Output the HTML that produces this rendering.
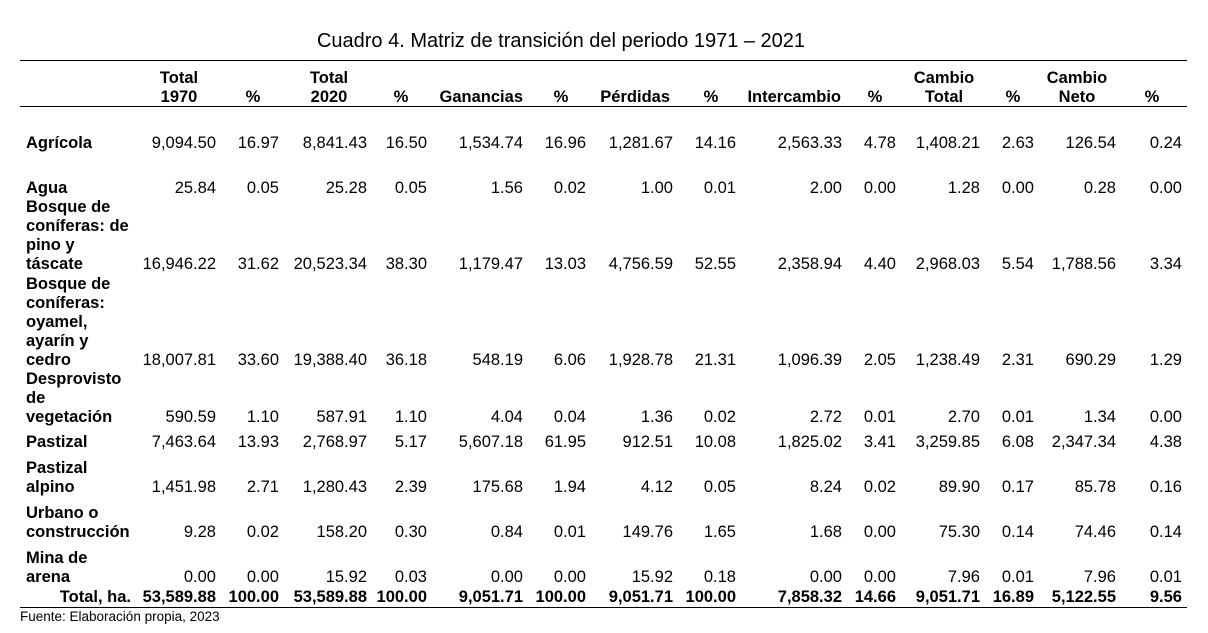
<!DOCTYPE html>
<html><head><meta charset="utf-8"><style>
body{margin:0;background:#fff;width:1208px;height:633px;position:relative;overflow:hidden;font-family:"Liberation Sans",Arial,sans-serif;color:#000}
.t{position:absolute;white-space:nowrap;font-size:16.5px;line-height:19px}
.b{font-weight:bold}
.r{position:absolute;left:0;width:1208px;height:19px}
.r span{position:absolute;top:0;white-space:nowrap;font-size:16.5px;line-height:19px}
.r span:nth-child(2){right:992px}.r span:nth-child(3){right:929px}
.r span:nth-child(4){right:841px}.r span:nth-child(5){right:781px}
.r span:nth-child(6){right:685px}.r span:nth-child(7){right:622px}
.r span:nth-child(8){right:535px}.r span:nth-child(9){right:472px}
.r span:nth-child(10){right:366px}.r span:nth-child(11){right:312px}
.r span:nth-child(12){right:228px}.r span:nth-child(13){right:174px}
.r span:nth-child(14){right:92px}.r span:nth-child(15){right:26px}
.r span:nth-child(1){left:26px;font-weight:bold}
.line{position:absolute;left:20px;width:1167px;height:1px;background:#000}
.h{position:absolute;font-size:16.5px;line-height:19px;font-weight:bold;text-align:center;white-space:nowrap}
</style></head><body>
<div class="t" style="left:0;width:1122px;text-align:center;top:29px;font-size:20px;line-height:24px">Cuadro 4. Matriz de transición del periodo 1971 – 2021</div>
<div class="line" style="top:60px"></div>
<div class="line" style="top:106px"></div>
<div class="line" style="top:607px"></div>

<div class="h" style="left:149px;width:60px;top:69px">Total<br>1970</div>
<div class="h" style="left:238px;width:30px;top:88px">%</div>
<div class="h" style="left:299px;width:60px;top:69px">Total<br>2020</div>
<div class="h" style="left:386px;width:30px;top:88px">%</div>
<div class="h" style="right:685px;top:88px">Ganancias</div>
<div class="h" style="left:546px;width:30px;top:88px">%</div>
<div class="h" style="right:538px;top:88px">Pérdidas</div>
<div class="h" style="left:696px;width:30px;top:88px">%</div>
<div class="h" style="right:367px;top:88px">Intercambio</div>
<div class="h" style="left:860px;width:30px;top:88px">%</div>
<div class="h" style="left:904px;width:80px;top:69px">Cambio<br>Total</div>
<div class="h" style="left:998px;width:30px;top:88px">%</div>
<div class="h" style="left:1037px;width:80px;top:69px">Cambio<br>Neto</div>
<div class="h" style="left:1137px;width:30px;top:88px">%</div>

<div class="r" style="top:134px"><span>Agrícola</span><span>9,094.50</span><span>16.97</span><span>8,841.43</span><span>16.50</span><span>1,534.74</span><span>16.96</span><span>1,281.67</span><span>14.16</span><span>2,563.33</span><span>4.78</span><span>1,408.21</span><span>2.63</span><span>126.54</span><span>0.24</span></div>
<div class="r" style="top:179px"><span>Agua</span><span>25.84</span><span>0.05</span><span>25.28</span><span>0.05</span><span>1.56</span><span>0.02</span><span>1.00</span><span>0.01</span><span>2.00</span><span>0.00</span><span>1.28</span><span>0.00</span><span>0.28</span><span>0.00</span></div>
<div class="t b" style="left:26px;top:198px">Bosque de<br>coníferas: de<br>pino y</div>
<div class="r" style="top:255px"><span>táscate</span><span>16,946.22</span><span>31.62</span><span>20,523.34</span><span>38.30</span><span>1,179.47</span><span>13.03</span><span>4,756.59</span><span>52.55</span><span>2,358.94</span><span>4.40</span><span>2,968.03</span><span>5.54</span><span>1,788.56</span><span>3.34</span></div>
<div class="t b" style="left:26px;top:275px">Bosque de<br>coníferas:<br>oyamel,<br>ayarín y</div>
<div class="r" style="top:351px"><span>cedro</span><span>18,007.81</span><span>33.60</span><span>19,388.40</span><span>36.18</span><span>548.19</span><span>6.06</span><span>1,928.78</span><span>21.31</span><span>1,096.39</span><span>2.05</span><span>1,238.49</span><span>2.31</span><span>690.29</span><span>1.29</span></div>
<div class="t b" style="left:26px;top:370px">Desprovisto<br>de</div>
<div class="r" style="top:408px"><span>vegetación</span><span>590.59</span><span>1.10</span><span>587.91</span><span>1.10</span><span>4.04</span><span>0.04</span><span>1.36</span><span>0.02</span><span>2.72</span><span>0.01</span><span>2.70</span><span>0.01</span><span>1.34</span><span>0.00</span></div>
<div class="r" style="top:433px"><span>Pastizal</span><span>7,463.64</span><span>13.93</span><span>2,768.97</span><span>5.17</span><span>5,607.18</span><span>61.95</span><span>912.51</span><span>10.08</span><span>1,825.02</span><span>3.41</span><span>3,259.85</span><span>6.08</span><span>2,347.34</span><span>4.38</span></div>
<div class="t b" style="left:26px;top:459px">Pastizal</div>
<div class="r" style="top:478px"><span>alpino</span><span>1,451.98</span><span>2.71</span><span>1,280.43</span><span>2.39</span><span>175.68</span><span>1.94</span><span>4.12</span><span>0.05</span><span>8.24</span><span>0.02</span><span>89.90</span><span>0.17</span><span>85.78</span><span>0.16</span></div>
<div class="t b" style="left:26px;top:504px">Urbano o</div>
<div class="r" style="top:523px"><span>construcción</span><span>9.28</span><span>0.02</span><span>158.20</span><span>0.30</span><span>0.84</span><span>0.01</span><span>149.76</span><span>1.65</span><span>1.68</span><span>0.00</span><span>75.30</span><span>0.14</span><span>74.46</span><span>0.14</span></div>
<div class="t b" style="left:26px;top:549px">Mina de</div>
<div class="r" style="top:568px"><span>arena</span><span>0.00</span><span>0.00</span><span>15.92</span><span>0.03</span><span>0.00</span><span>0.00</span><span>15.92</span><span>0.18</span><span>0.00</span><span>0.00</span><span>7.96</span><span>0.01</span><span>7.96</span><span>0.01</span></div>
<div class="r b" style="top:588px"><span style="left:auto;right:1077px">Total, ha.</span><span class="b">53,589.88</span><span class="b">100.00</span><span class="b">53,589.88</span><span class="b">100.00</span><span class="b">9,051.71</span><span class="b">100.00</span><span class="b">9,051.71</span><span class="b">100.00</span><span class="b">7,858.32</span><span class="b">14.66</span><span class="b">9,051.71</span><span class="b">16.89</span><span class="b">5,122.55</span><span class="b">9.56</span></div>
<div class="t" style="left:20px;top:609px;font-size:13.5px;line-height:16px">Fuente: Elaboración propia, 2023</div>
</body></html>
